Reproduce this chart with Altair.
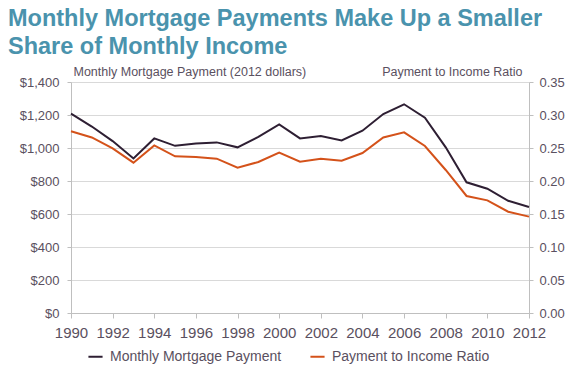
import altair as alt
import pandas as pd

years = list(range(1990, 2013))
payment = [1208, 1130, 1042, 937, 1058, 1013, 1027, 1034, 1004, 1067, 1143,
           1058, 1072, 1046, 1105, 1206, 1265, 1184, 1004, 792, 753, 680, 642]
ratio = [0.2755, 0.2660, 0.2495, 0.2278, 0.2540, 0.2374, 0.2364, 0.2338, 0.2202,
         0.2288, 0.2429, 0.2293, 0.2338, 0.2308, 0.2424, 0.2660, 0.2738, 0.2530,
         0.2167, 0.1773, 0.1707, 0.1535, 0.1460]
series_names = ["Monthly Mortgage Payment", "Payment to Income Ratio"]
series_colors = ["#2e1f33", "#d4521a"]
x_ticks = list(range(1990, 2013, 2))
left_ticks = list(range(0, 1401, 200))
right_ticks = [0, 0.05, 0.10, 0.15, 0.20, 0.25, 0.30, 0.35]

df = pd.DataFrame({"Year": years, "Payment": payment, "Ratio": ratio})

FONT = "Liberation Sans"
TEXT = "#5a5060"
AXISC = "#bfbfbf"

color_scale = alt.Scale(domain=series_names, range=series_colors)
legend = alt.Legend(
    title=None, orient="none", legendX=16, legendY=266, direction="horizontal",
    symbolType="stroke", symbolSize=200, symbolStrokeWidth=2,
    labelFontSize=14, labelColor=TEXT, labelFont=FONT, columnPadding=24, labelOffset=6,
    labelLimit=400,
)

x_enc = alt.X("Year:Q", scale=alt.Scale(domain=[1990, 2012], nice=False),
              axis=alt.Axis(values=x_ticks, format="d", title=None, grid=False,
                            labelFontSize=15, tickSize=5, labelPadding=7,
                            labelFlush=False, domainColor=AXISC, tickColor=AXISC))

base = alt.Chart(df)

l1 = base.transform_calculate(Series=f"'{series_names[0]}'").mark_line(strokeWidth=2).encode(
    x=x_enc,
    y=alt.Y("Payment:Q", scale=alt.Scale(domain=[0, 1400], nice=False),
            axis=alt.Axis(values=left_ticks, format="$,d",
                          title="Monthly Mortgage Payment (2012 dollars)",
                          titleAngle=0, titleAlign="left", titleBaseline="bottom",
                          titleX=2, titleY=-4, titleFontSize=12.5, titleFontWeight="normal",
                          titleColor=TEXT, titleFont=FONT,
                          grid=True, gridColor="#d9d9d9", labelFontSize=13,
                          tickSize=4, labelPadding=8, domainColor=AXISC, tickColor=AXISC)),
    color=alt.Color("Series:N", scale=color_scale, legend=legend),
)

l2 = base.transform_calculate(Series=f"'{series_names[1]}'").mark_line(strokeWidth=2).encode(
    x=x_enc,
    y=alt.Y("Ratio:Q", scale=alt.Scale(domain=[0, 0.35], nice=False),
            axis=alt.Axis(orient="right", values=right_ticks, format=".2f",
                          title="Payment to Income Ratio",
                          titleAngle=0, titleAlign="right", titleBaseline="bottom",
                          titleX=-7, titleY=-4, titleFontSize=12.5, titleFontWeight="normal",
                          titleColor=TEXT, titleFont=FONT,
                          grid=False, labelFontSize=13, tickSize=4, labelPadding=6,
                          domainColor=AXISC, tickColor=AXISC)),
    color=alt.Color("Series:N", scale=color_scale, legend=legend),
)

chart = alt.layer(l1, l2).resolve_scale(y="independent").properties(
    width=458, height=231,
    autosize=alt.AutoSizeParams(type="none"),
    padding={"left": 63, "top": 74, "right": 39, "bottom": 54},
    title=alt.TitleParams(
        ["Monthly Mortgage Payments Make Up a Smaller", "Share of Monthly Income"],
        anchor="start", frame="group", fontSize=23.5, font=FONT, fontWeight="bold",
        color="#4a93ad", dx=-63, dy=3, lineHeight=28, offset=10,
    ),
).configure_axis(
    labelColor=TEXT, labelFont=FONT, domainWidth=1, tickWidth=1,
).configure_view(stroke=None)

chart.save("out.html", embed_options={"renderer": "svg", "actions": False})
